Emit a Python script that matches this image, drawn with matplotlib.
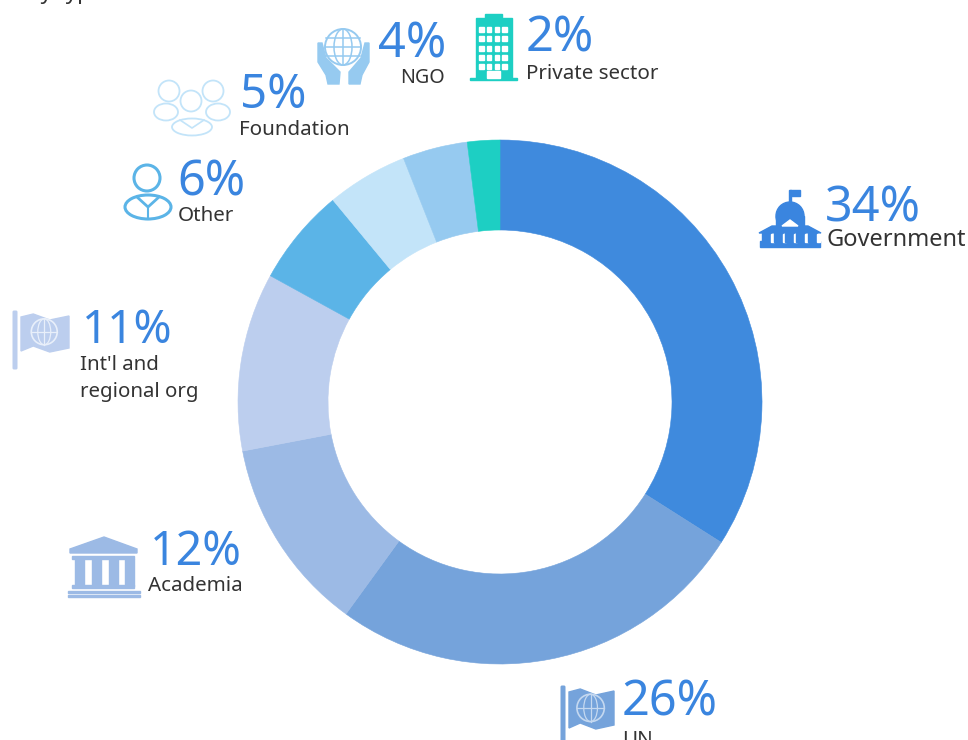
#!/usr/bin/env python3
# -*- coding: utf-8 -*-
"""Donut chart of shares by organisation type, with hand drawn icons."""

import matplotlib
matplotlib.use("Agg")
import matplotlib.pyplot as plt
from matplotlib.patches import Circle, Ellipse, Polygon, Rectangle, FancyBboxPatch

categories = ["Government", "UN", "Academia", "Int'l and\nregional org",
              "Other", "Foundation", "NGO", "Private sector"]
shares = [34, 26, 12, 11, 6, 5, 4, 2]
colors = ["#3F8ADD", "#75A3DB", "#9CBAE5", "#BCCEEE",
          "#5BB4E7", "#C3E4F9", "#96CAF0", "#1DCFC3"]

# left of number, baseline of number, left of label, baseline of label (pixels)
label_pos = [
    (825, 222, 826, 246),
    (622, 715, 622, 745),
    (150, 565, 148, 591),
    (82, 343, 80, 370),
    (177, 195, 178, 221),
    (240, 108, 239, 135),
    (378, 58, 400, 83),
    (526, 52, 526, 79),
]
label_sizes = [17, 14.8, 14.8, 14.7, 14.8, 14.8, 14.2, 14.8]
pct_sizes = [35, 35, 33.5, 33, 35, 34, 35, 35]

PCT_COLOR = "#3A85DF"
TEXT_COLOR = "#333333"
W, H = 968, 740

plt.rcParams["font.family"] = ["Noto Sans", "DejaVu Sans"]


def government_icon(ax, c):
    ax.add_patch(Rectangle((760, 241), 60, 6, color=c))
    ax.add_patch(Polygon([(759, 233), (772, 226), (808, 226), (821, 233)], color=c))
    ax.add_patch(Circle((790, 216), 14, color=c))
    ax.add_patch(Rectangle((776, 216), 28, 12, color=c))
    ax.add_patch(Rectangle((789, 190), 2, 14, color=c))
    ax.add_patch(Rectangle((790, 190), 10, 6, color=c))
    ax.add_patch(Polygon([(782, 226), (790, 220), (798, 226)], color="white"))
    for x in (762, 774, 785, 796, 808):
        ax.add_patch(Rectangle((x, 233), 9, 9, color=c))
        ax.add_patch(Rectangle((x + 9, 234), 2.5, 8, color="white"))


def flag_icon(ax, x, y, w, h, pole_h, c, ring):
    ax.add_patch(FancyBboxPatch((x, y), 2, pole_h, boxstyle="round,pad=1.5",
                                color=c, lw=0))
    ax.add_patch(Polygon([(x + 7, y + 5), (x + w * 0.35, y + 2), (x + w * 0.65, y + 8),
                          (x + w, y + 4), (x + w, y + h), (x + w * 0.65, y + h + 4),
                          (x + w * 0.35, y + h - 2), (x + 7, y + h + 3)], color=c))
    cx, cy, r = x + w * 0.55, y + h * 0.55, h * 0.36
    ax.add_patch(Circle((cx, cy), r, fc="none", ec=ring, lw=1.2))
    ax.add_patch(Ellipse((cx, cy), r, 2 * r, fc="none", ec=ring, lw=0.9))
    ax.plot([cx - r, cx + r], [cy, cy], color=ring, lw=0.9)
    ax.plot([cx, cx], [cy - r, cy + r], color=ring, lw=0.9)


def academia_icon(ax, c):
    ax.add_patch(Polygon([(70, 549), (104, 537), (137, 549), (137, 553), (70, 553)], color=c))
    ax.add_patch(Rectangle((72, 556), 62, 3, color=c))
    for x in (75, 92, 109, 125):
        ax.add_patch(Rectangle((x, 559), 9, 27, color=c))
    ax.add_patch(Rectangle((72, 585), 62, 3, color=c))
    ax.add_patch(Rectangle((68, 591), 72, 2, color=c))
    ax.add_patch(Rectangle((68, 595), 72, 1.5, color=c))


def person_icon(ax, c):
    ax.add_patch(Circle((147, 178), 13, fc="none", ec=c, lw=2.2))
    ax.add_patch(Ellipse((148, 207), 46, 24, fc="none", ec=c, lw=2.2))
    ax.plot([137, 148, 159], [197, 207, 197], color=c, lw=2)
    ax.plot([148, 148], [207, 219], color=c, lw=1.5)


def people_icon(ax, c):
    for cx, cy in ((169, 91), (213, 91), (191, 101)):
        ax.add_patch(Circle((cx, cy), 10.5, fc="none", ec=c, lw=1.3))
    for cx, cy, w in ((166, 112, 24), (218, 112, 24), (192, 127, 40)):
        ax.add_patch(Ellipse((cx, cy), w, 17, fc="white", ec=c, lw=1.3))
    ax.plot([180, 192, 204], [120, 128, 120], color=c, lw=1.2)


def ngo_icon(ax, c):
    cx, cy, r = 343, 47, 18
    ax.add_patch(Circle((cx, cy), r, fc="none", ec=c, lw=1.4))
    ax.add_patch(Ellipse((cx, cy), r, 2 * r, fc="none", ec=c, lw=1.1))
    for dy in (-9, 0, 9):
        ax.plot([cx - r + 1, cx + r - 1], [cy + dy, cy + dy], color=c, lw=1.1)
    ax.plot([cx, cx], [cy - r, cy + r], color=c, lw=1.1)
    ax.add_patch(Polygon([(318, 43), (322, 43), (326, 58), (340, 72), (339, 84),
                          (328, 84), (326, 75), (318, 62)], color=c))
    ax.add_patch(Polygon([(369, 43), (365, 43), (361, 58), (349, 72), (349, 84),
                          (360, 84), (362, 75), (369, 62)], color=c))


def building_icon(ax, c):
    ax.add_patch(Rectangle((485, 14), 17, 4, color=c))
    ax.add_patch(Rectangle((476, 18), 36, 60, color=c))
    ax.add_patch(Rectangle((470, 78), 47, 2, color=c))
    for row in range(5):
        for col in range(4):
            ax.add_patch(Rectangle((479 + col * 7.8, 27 + row * 9.3), 4.6, 5, color="white"))
    ax.add_patch(Rectangle((487, 71), 13, 7, color="white"))


fig = plt.figure(figsize=(W / 100, H / 100), dpi=100)

# donut: centre (500, 402), outer radius 262 px
pie_ax = fig.add_axes([238 / W, 1 - 664 / H, 524 / W, 524 / H])
wedges, _ = pie_ax.pie(shares, colors=colors, startangle=90, counterclock=False, radius=1,
                       wedgeprops={"width": 90 / 262, "linewidth": 0.4})
# same colour on the edge, so no pale seam shows between wedges
for wedge, color in zip(wedges, colors):
    wedge.set_edgecolor(color)
pie_ax.set_xlim(-1, 1)
pie_ax.set_ylim(-1, 1)

# overlay in image pixels for icons and text
ax = fig.add_axes([0, 0, 1, 1], facecolor="none")
ax.set_xlim(0, W)
ax.set_ylim(H, 0)
ax.axis("off")

government_icon(ax, "#3A85DF")
flag_icon(ax, 562, 687, 52, 38, 60, "#75A3DB", "#C4D8F0")
academia_icon(ax, "#9CBAE5")
flag_icon(ax, 14, 312, 55, 36, 56, "#BCCEEE", "#E8EFFA")
person_icon(ax, "#5BB4E7")
people_icon(ax, "#C3E4F9")
ngo_icon(ax, "#96CAF0")
building_icon(ax, "#1DCFC3")

for i, (nx, ny, lx, ly) in enumerate(label_pos):
    ax.text(nx, ny, f"{shares[i]}%", fontsize=pct_sizes[i], color=PCT_COLOR,
            weight="light", ha="left", va="baseline")
    lines = categories[i].split("\n")
    for j, line in enumerate(lines):
        ax.text(lx, ly + j * 27, line, fontsize=label_sizes[i], color=TEXT_COLOR,
                ha="left", va="baseline")

# title of the source page, cut off by the top edge
ax.text(27, -1, "by type", fontsize=16, color=TEXT_COLOR, ha="left", va="baseline", clip_on=False)

fig.savefig("out.png", dpi=100)
plt.close(fig)
